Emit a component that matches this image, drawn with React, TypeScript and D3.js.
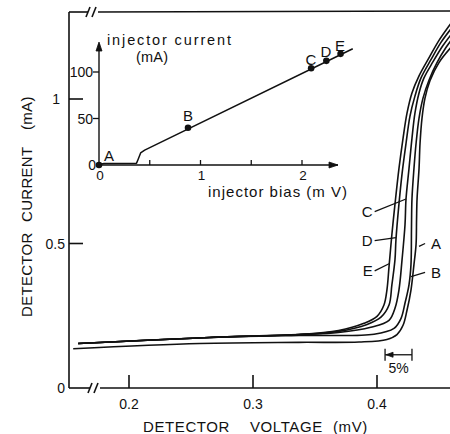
import React from 'react'
import * as d3 from 'd3'

// main plot: detector current (mA) vs detector voltage (mV), one curve per injector bias point
const curveNames = ['A', 'B', 'C', 'D', 'E']

const curveA: [number, number][] = [
  [0.155, 0.136], [0.257, 0.154], [0.337, 0.158], [0.3855, 0.159], [0.408, 0.168],
  [0.4161, 0.185], [0.421, 0.217], [0.4242, 0.269], [0.4274, 0.339], [0.4298, 0.427],
  [0.4315, 0.497], [0.4319, 0.584], [0.4323, 0.654], [0.4339, 0.759], [0.4347, 0.846],
  [0.4363, 0.934], [0.4387, 1.003], [0.4427, 1.063], [0.45, 1.126], [0.46, 1.18],
]
const curveB: [number, number][] = [
  [0.159, 0.154], [0.265, 0.175], [0.337, 0.182], [0.3976, 0.186], [0.4137, 0.206],
  [0.4194, 0.241], [0.4226, 0.294], [0.4258, 0.357], [0.4274, 0.427], [0.4278, 0.549],
  [0.4282, 0.654], [0.4298, 0.759], [0.4315, 0.846], [0.4339, 0.934], [0.4371, 1.003],
  [0.442, 1.066], [0.4484, 1.126], [0.4556, 1.178], [0.461, 1.21],
]
const curveC: [number, number][] = [
  [0.159, 0.154], [0.265, 0.175], [0.337, 0.185], [0.369, 0.192], [0.395, 0.21],
  [0.4097, 0.234], [0.4145, 0.276], [0.4177, 0.339], [0.4202, 0.444], [0.4226, 0.566],
  [0.4234, 0.654], [0.4258, 0.759], [0.4282, 0.864], [0.4306, 0.951], [0.4339, 1.021],
  [0.4379, 1.073], [0.4452, 1.129], [0.4532, 1.185], [0.461, 1.23],
]
const curveD: [number, number][] = [
  [0.159, 0.154], [0.265, 0.175], [0.337, 0.185], [0.369, 0.196], [0.392, 0.22],
  [0.4032, 0.245], [0.4097, 0.287], [0.412, 0.357], [0.4145, 0.444], [0.4153, 0.514],
  [0.4177, 0.636], [0.4202, 0.741], [0.4234, 0.846], [0.4266, 0.941], [0.4306, 1.01],
  [0.4355, 1.073], [0.4435, 1.136], [0.4516, 1.196], [0.461, 1.25],
]
const curveE: [number, number][] = [
  [0.159, 0.154], [0.265, 0.175], [0.337, 0.185], [0.369, 0.199], [0.3895, 0.224],
  [0.4, 0.248], [0.4056, 0.287], [0.408, 0.339], [0.4097, 0.42], [0.412, 0.531],
  [0.4145, 0.636], [0.4177, 0.759], [0.421, 0.864], [0.4242, 0.951], [0.4282, 1.021],
  [0.4339, 1.08], [0.442, 1.143], [0.45, 1.203], [0.461, 1.27],
]
const curves = [curveA, curveB, curveC, curveD, curveE]

// label anchors: [curve point voltage, current] and [label voltage, current]
const labelTips: [number, number][] = [
  [0.4339, 0.49], [0.4274, 0.385], [0.4234, 0.654], [0.4153, 0.52], [0.4097, 0.43],
]
const labelPos: [number, number][] = [
  [0.4436, 0.5], [0.4436, 0.4], [0.3965, 0.61], [0.3965, 0.51], [0.3965, 0.405],
]
const labelSide = ['right', 'right', 'left', 'left', 'left']

const xTicks = [0.2, 0.3, 0.4]
const yTicks = [0.5, 1]
const scaleBar = [0.4065, 0.4282] // 5 %
const scaleBarLevel = 0.115

const xTitle = ['DETECTOR', 'VOLTAGE', '(mV)']
const yTitle = ['DETECTOR', 'CURRENT', '(mA)']

// inset: injector current (mA) vs injector bias (mV)
const insetLine: [number, number][] = [
  [0, 0.5], [0.05, 1.6], [0.37, 2], [0.385, 6], [0.41, 13], [0.45, 16], [2.5, 125],
]
const insetPoints: [number, number][] = [
  [0, 0], [0.877, 40], [2.09, 104], [2.24, 112], [2.38, 119.5],
]
const insetXTicks = [0, 1, 2]
const insetXMinor = [0.5, 1.5]
const insetYTicks = [0, 50, 100]

const font = '"Liberation Sans", Arial, sans-serif'

export default function App() {
  const x = d3.scaleLinear().domain([0.2, 0.4]).range([129, 377])
  const y = d3.scaleLinear().domain([0, 1]).range([388, 99])
  const xi = d3.scaleLinear().domain([0, 2]).range([99, 302])
  const yi = d3.scaleLinear().domain([0, 100]).range([165, 72])

  const line = d3.line<[number, number]>()
    .x(d => x(d[0]))
    .y(d => y(d[1]))
    .curve(d3.curveCatmullRom.alpha(0.5))

  const insetPath = d3.line<[number, number]>()
    .x(d => xi(d[0]))
    .y(d => yi(d[1]))

  const left = 69
  const top = 12
  const bottom = y(0)

  const brk = (bx: number, by: number) => (
    <g>
      <line x1={bx - 4} y1={by + 5} x2={bx} y2={by - 5} />
      <line x1={bx + 2} y1={by + 5} x2={bx + 6} y2={by - 5} />
    </g>
  )

  // word starts of the axis titles
  const xTitlePos = [143, 250, 333]
  const yTitlePos = [317, 222, 130]

  return (
    <svg width={450} height={434} style={{ position: 'absolute', left: 0, top: 0, background: '#fff' }}
      fontFamily={font}>
      <defs>
        <clipPath id="plot">
          <rect x={left} y={top} width={450 - left} height={bottom - top} />
        </clipPath>
      </defs>
      <g stroke="#111" strokeWidth={1.6} fill="none">
        {/* frame */}
        <line x1={left} y1={top} x2={left} y2={bottom} />
        <line x1={left} y1={bottom} x2={90} y2={bottom} />
        <line x1={100} y1={bottom} x2={450} y2={bottom} />
        <line x1={left} y1={top} x2={88} y2={top} />
        <line x1={98} y1={top} x2={450} y2={top - 1} />
        {brk(92, bottom)}
        {brk(90, top)}
        {xTicks.map(t => (
          <line key={t} x1={x(t)} x2={x(t)} y1={bottom} y2={bottom - 13} />
        ))}
        {yTicks.map(t => (
          <line key={t} x1={left} x2={left + 14} y1={y(t)} y2={y(t)} />
        ))}
        {/* curves */}
        <g clipPath="url(#plot)">
          {curves.map((c, i) => (
            <path key={curveNames[i]} d={line(c) ?? ''} strokeWidth={1.6} />
          ))}
        </g>
        {/* leader lines */}
        {labelTips.map((t, i) => {
          const p = labelPos[i]
          const lx = labelSide[i] === 'right' ? x(p[0]) - 6 : x(p[0]) + 2
          return <line key={i} x1={x(t[0])} y1={y(t[1])} x2={lx} y2={y(p[1])} strokeWidth={1.3} />
        })}
        {/* 5% scale bar */}
        <line x1={x(scaleBar[0])} x2={x(scaleBar[1])} y1={y(scaleBarLevel)} y2={y(scaleBarLevel)} strokeWidth={1.3} />
        <line x1={x(scaleBar[0])} x2={x(scaleBar[0])} y1={y(scaleBarLevel) - 6} y2={y(scaleBarLevel) + 6} strokeWidth={1.3} />
        <line x1={x(scaleBar[1])} x2={x(scaleBar[1])} y1={y(scaleBarLevel) - 6} y2={y(scaleBarLevel) + 6} strokeWidth={1.3} />
        <path d={`M${x(scaleBar[0]) + 1},${y(scaleBarLevel)} l7,-2.5 l0,5 z`} fill="#111" strokeWidth={0.8} />

        {/* inset axes */}
        <line x1={xi(0)} y1={yi(0)} x2={338} y2={yi(0)} strokeWidth={1.4} />
        <path d={`M338,${yi(0)} l-9,-3 l0,6 z`} fill="#111" strokeWidth={0.8} />
        <line x1={xi(0)} y1={yi(0)} x2={xi(0)} y2={44} strokeWidth={1.4} />
        <path d={`M${xi(0)},42 l-3,9 l6,0 z`} fill="#111" strokeWidth={0.8} />
        {insetXTicks.concat(insetXMinor).filter(t => t > 0).map(t => (
          <line key={t} x1={xi(t)} x2={xi(t)} y1={yi(0)} y2={yi(0) - 5} strokeWidth={1.3} />
        ))}
        {insetYTicks.filter(t => t > 0).map(t => (
          <line key={t} x1={xi(0) - 6} x2={xi(0)} y1={yi(t)} y2={yi(t)} strokeWidth={1.3} />
        ))}
        <path d={insetPath(insetLine) ?? ''} strokeWidth={1.5} strokeLinejoin="round" />
      </g>
      {insetPoints.map((p, i) => (
        <circle key={i} cx={xi(p[0])} cy={yi(p[1])} r={3.3} fill="#111" />
      ))}

      <g fill="#111">
        {/* main tick labels */}
        {xTicks.map(t => (
          <text key={t} x={x(t)} y={409} fontSize={14} textAnchor="middle">{String(t)}</text>
        ))}
        {yTicks.map(t => (
          <text key={t} x={t === 1 ? 60 : 65} y={y(t) + 5} fontSize={14} textAnchor="end">{String(t)}</text>
        ))}
        <text x={65} y={bottom + 5} fontSize={14} textAnchor="end">0</text>
        {xTitle.map((w, i) => (
          <text key={w} x={xTitlePos[i]} y={432} fontSize={15} letterSpacing={0.6}>{w}</text>
        ))}
        {yTitle.map((w, i) => (
          <text key={w} transform={`translate(32,${yTitlePos[i]}) rotate(-90)`} fontSize={15} letterSpacing={0.3}>{w}</text>
        ))}

        {/* curve labels */}
        {curveNames.map((n, i) => (
          <text key={n} x={x(labelPos[i][0])} y={y(labelPos[i][1]) + 5.5} fontSize={15}
            textAnchor={labelSide[i] === 'right' ? 'start' : 'end'}>{n}</text>
        ))}
        <text x={(x(scaleBar[0]) + x(scaleBar[1])) / 2} y={y(scaleBarLevel) + 18} fontSize={14} textAnchor="middle">5%</text>

        {/* inset labels */}
        <text x={107} y={45} fontSize={14.5} textLength={124} lengthAdjust="spacing">injector current</text>
        <text x={136} y={62} fontSize={14.5} textLength={32} lengthAdjust="spacing">(mA)</text>
        <text x={208} y={197} fontSize={15} textLength={139} lengthAdjust="spacing">injector bias (m V)</text>
        {insetXTicks.map(t => (
          <text key={t} x={xi(t) + 1} y={180} fontSize={13.5} textAnchor="middle">{String(t)}</text>
        ))}
        {insetYTicks.map(t => (
          <text key={t} x={t === 0 ? 96 : 93} y={yi(t) + 5} fontSize={14} textAnchor="end">{String(t)}</text>
        ))}
        <text x={109} y={161} fontSize={15} textAnchor="middle">A</text>
        <text x={xi(insetPoints[1][0])} y={121} fontSize={15} textAnchor="middle">B</text>
        <text x={311} y={65} fontSize={15} textAnchor="middle">C</text>
        <text x={326} y={57} fontSize={15} textAnchor="middle">D</text>
        <text x={340} y={51} fontSize={15} textAnchor="middle">E</text>
      </g>
    </svg>
  )
}
